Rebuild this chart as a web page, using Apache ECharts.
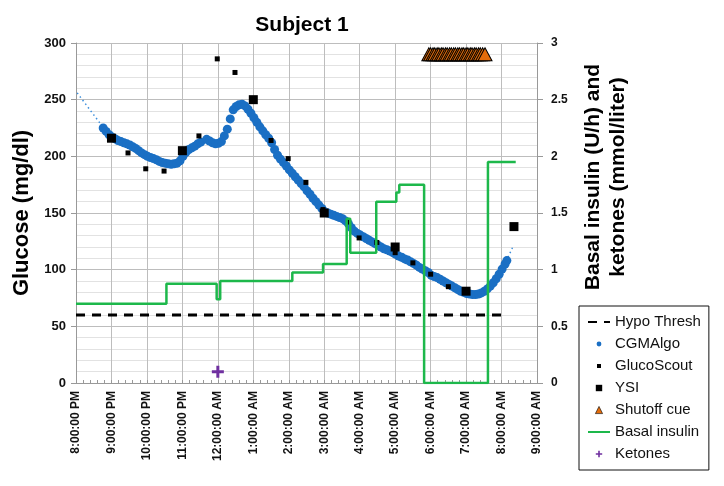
<!DOCTYPE html>
<html>
<head>
<meta charset="utf-8">
<script src="https://cdn.jsdelivr.net/npm/echarts@6/dist/echarts.min.js"></script>
<style>
html,body{margin:0;padding:0;background:#fff;}
#chart{width:724px;height:486px;}
</style>
</head>
<body>
<div id="chart"></div>
<script>
// Time values are minutes after 8:00:00 PM
var tickLabels = ['8:00:00 PM','9:00:00 PM','10:00:00 PM','11:00:00 PM','12:00:00 AM','1:00:00 AM','2:00:00 AM','3:00:00 AM','4:00:00 AM','5:00:00 AM','6:00:00 AM','7:00:00 AM','8:00:00 AM','9:00:00 AM'];

var hypoThresh = [[0,60],[729,60]];

var cgmAlgo = [
[46,225],[51,222],[56,219],[61,217],[66,215.5],[71,214],[76,213],[81,212],[86,211],[91,210],
[96,208.5],[101,207],[106,205],[111,203],[116,201.5],[121,200],[126,199],[131,198],[136,197],[141,195.5],
[146,194.5],[151,194],[156,193.5],[161,193],[166,193.5],[171,194],[176,196],[181,200],[186,203.5],[191,206],
[196,207.5],[201,209],[206,211],[211,212.5],[221,215],[226,213.5],[231,212],[236,211],[241,211.5],[246,213],
[251,218],[256,224],[261,233],[266,241],[271,244],[276,245.5],[281,246],[286,244.5],[291,241.5],[296,238],
[301,234],[306,230],[311,226],[316,222.5],[321,219],[326,216],[331,212],[336,206],[341,201],[346,197.5],
[351,194.5],[356,191.5],[361,188],[366,185],[371,182],[376,179],[381,176],[386,173],[391,169.5],[396,166.5],
[401,163],[406,160],[411,157],[416,154],[421,151],[426,150],[431,149],[436,148],[441,147],[446,146],
[451,145],[456,143],[461,140.5],[466,137],[471,134],[476,132],[481,130.5],[486,129],[491,127.5],[496,126],
[501,124.5],[506,123],[511,121.5],[516,120],[521,118.5],[526,117.5],[531,116.5],[536,115],[541,113.5],[546,112],
[551,111],[556,109.5],[561,108.5],[566,107],[571,105.5],[576,104],[581,102],[586,100.5],[591,99],[596,97.5],
[601,95],[606,94],[611,93],[616,91.5],[621,90],[626,88.5],[631,87],[636,85.5],[641,84],[646,82.5],
[651,81],[656,80],[661,79],[666,78.5],[671,78],[676,78],[681,78.5],[686,79.5],[691,81],[696,83],
[701,85.5],[706,88.5],[711,92],[716,96],[721,100.5],[726,105],[729,108]
];
var cgmTrendStart = [[2,256],[41,229]];
var cgmTrendEnd = [[731,111],[740,121]];

var glucoScout = [[88,203],[118,189],[149,187],[208,218],[239,286],[269,274],[330,214],[359,198],[389,177],[418,153],
[461,142],[479,128],[509,124],[540,115],[570,106],[600,96],[630,85]];

var ysi = [[60,216],[180,205],[300,250],[420,150],[540,120],[660,81],[741,138]];

var shutoffTimes = [597,600,604,607,611,614,618,621,625,628,632,635,639,642,646,649,653,656,660,663,667,670,674,677,681,684,688,692];
var shutoffLevel = 2.9;

// basal insulin (U/h): value holds from its time until the next point
var basalInsulin = [[0,0.70],[153,0.875],[238,0.74],[244,0.90],[366,0.975],[418,1.05],[458,1.45],[464,1.15],
[508,1.60],[542,1.68],[547,1.75],[589,0],[697,1.95],[744,1.95]];

var ketones = [[240,0.1]];

var FONT = '"Liberation Sans", Arial, Helvetica, sans-serif';
var chart = echarts.init(document.getElementById('chart'), null, {renderer:'canvas'});

var shutoffData = shutoffTimes.map(function(t){ return [t, shutoffLevel]; });
var noSymbol = {color:'rgba(0,0,0,0)', borderWidth:0, opacity:0};

chart.setOption({
  animation:false,
  backgroundColor:'#fff',
  title:{
    text:'Subject 1', left:297, top:10, textAlign:'center',
    textStyle:{fontFamily:FONT, fontWeight:'bold', fontSize:21, color:'#000'}
  },
  grid:{left:76, right:187, top:43, bottom:103, containLabel:false},
  legend:{
    orient:'vertical', left:579, top:306,
    borderColor:'#111', borderWidth:1, padding:[8,8,8,8],
    itemGap:6, itemWidth:22, itemHeight:8, symbolKeepAspect:true,
    textStyle:{fontFamily:FONT, fontSize:15, color:'#111', lineHeight:16},
    data:[
      {name:'Hypo Thresh', itemStyle:noSymbol},
      {name:'CGMAlgo', icon:'path://M0,0M10,10M2,5A3,3 0 1 1 8,5A3,3 0 1 1 2,5Z'},
      {name:'GlucoScout', icon:'path://M0,0M10,10M2.5,2.5H7.5V7.5H2.5Z'},
      {name:'YSI', icon:'path://M0,0M10,10M1,1H9V9H1Z'},
      {name:'Shutoff cue', icon:'path://M0,0M10,10M0.5,9.5L5,0.5L9.5,9.5Z', itemStyle:{color:'#e46c0a', borderColor:'#000', borderWidth:0.6}},
      {name:'Basal insulin', itemStyle:noSymbol},
      {name:'Ketones', icon:'path://M0,0M10,10M4,1H6V4H9V6H6V9H4V6H1V4H4Z'}
    ]
  },
  xAxis:{
    type:'value', min:0, max:780, interval:60,
    axisLine:{show:true, onZero:false, lineStyle:{color:'#999', width:1}},
    axisTick:{show:true, inside:true, length:3, lineStyle:{color:'#999'}},
    minorTick:{show:true, splitNumber:5, length:3, lineStyle:{color:'#999'}},
    splitLine:{show:true, lineStyle:{color:'#bdbdbd', width:1}},
    axisLabel:{
      rotate:90, margin:8, fontFamily:FONT, fontWeight:'bold', fontSize:12, color:'#111',
      formatter:function(v){ return tickLabels[Math.round(v/60)]; }
    }
  },
  yAxis:[
    {
      type:'value', min:0, max:300, interval:50, position:'left',
      name:'Glucose (mg/dl)', nameLocation:'middle', nameGap:40,
      nameTextStyle:{fontFamily:FONT, fontWeight:'bold', fontSize:22, color:'#000'},
      axisLine:{show:true, lineStyle:{color:'#999'}},
      axisTick:{show:true, length:5, lineStyle:{color:'#999'}},
      minorTick:{show:false},
      splitLine:{show:true, lineStyle:{color:'#bdbdbd', width:1}},
      minorSplitLine:{show:true, lineStyle:{color:'#e2e2e2', width:1}},
      axisLabel:{margin:10, fontFamily:FONT, fontWeight:'bold', fontSize:13, color:'#111'}
    },
    {
      type:'value', min:0, max:3, interval:0.5, position:'right',
      name:'Basal insulin (U/h) and\nketones (mmol/liter)', nameLocation:'middle', nameGap:44,
      nameTextStyle:{fontFamily:FONT, fontWeight:'bold', fontSize:21, color:'#000', lineHeight:25, padding:[0,0,0,72]},
      axisLine:{show:true, lineStyle:{color:'#999'}},
      axisTick:{show:true, length:6, lineStyle:{color:'#999'}},
      splitLine:{show:false},
      axisLabel:{margin:14, fontFamily:FONT, fontWeight:'bold', fontSize:12, color:'#111'}
    }
  ],
  series:[
    {
      name:'Hypo Thresh', type:'line', data:hypoThresh, symbol:'none', z:3,
      lineStyle:{color:'#000', width:3, type:[9,7]}, itemStyle:{color:'#000'}
    },
    {
      name:'trendStart', type:'line', data:cgmTrendStart, symbol:'none', z:3, silent:true,
      lineStyle:{color:'#3d8fdc', width:1.5, type:[1.5,3]}
    },
    {
      name:'trendEnd', type:'line', data:cgmTrendEnd, symbol:'none', z:3, silent:true,
      lineStyle:{color:'#3d8fdc', width:1.5, type:[1.5,3]}
    },
    {
      name:'CGMAlgo', type:'scatter', data:cgmAlgo, symbol:'circle', symbolSize:9, z:4,
      itemStyle:{color:'#1a6fc4', opacity:1}
    },
    {
      name:'GlucoScout', type:'scatter', data:glucoScout, symbol:'rect', symbolSize:5, z:5,
      itemStyle:{color:'#000', opacity:1}
    },
    {
      name:'YSI', type:'scatter', data:ysi, symbol:'rect', symbolSize:9, z:5,
      itemStyle:{color:'#000', opacity:1}
    },
    {
      name:'Shutoff cue', type:'scatter', yAxisIndex:1, data:shutoffData, symbol:'triangle', symbolSize:[14,13], z:5,
      itemStyle:{color:'#e46c0a', borderColor:'#000', borderWidth:1, opacity:1}
    },
    {
      name:'Basal insulin', type:'line', yAxisIndex:1, data:basalInsulin, step:'end', symbol:'none', z:6,
      lineStyle:{color:'#1db84b', width:2.5}, itemStyle:{color:'#1db84b'}
    },
    {
      name:'Ketones', type:'scatter', yAxisIndex:1, data:ketones, z:7,
      symbol:'path://M3,0H5V3H8V5H5V8H3V5H0V3H3Z', symbolSize:12,
      itemStyle:{color:'#7030a0', opacity:1}
    }
  ]
});
</script>
</body>
</html>
